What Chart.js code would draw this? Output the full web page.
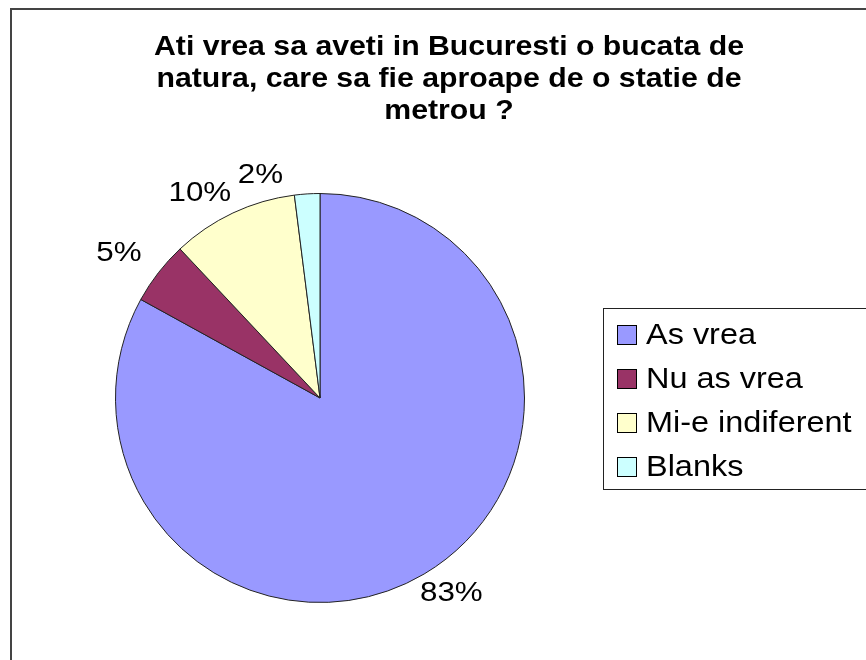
<!DOCTYPE html>
<html>
<head>
<meta charset="utf-8">
<script src="https://cdn.jsdelivr.net/npm/chart.js@4.4.1/dist/chart.umd.min.js"></script>
<style>
  html, body { margin: 0; padding: 0; background: #fff; }
  canvas { display: block; }
</style>
</head>
<body>
<canvas id="pieChart" width="866" height="660"></canvas>
<script>
const categories = ['As vrea', 'Nu as vrea', 'Mi-e indiferent', 'Blanks'];
const percentages = [83, 5, 10, 2];
const sliceColors = ['#9999ff', '#993366', '#ffffcc', '#ccffff'];
const titleLines = [
  'Ati vrea sa aveti in Bucuresti o bucata de',
  'natura, care sa fie aproape de o statie de',
  'metrou ?'
];
// small nudges so the percent labels sit where the original put them
const labelNudge = [[14, -3], [-19, -4], [-22, 4], [-45, 7]];

const FONT = "'Liberation Sans', Arial, sans-serif";
const STRETCH = 1.1; // the original text is a bit wide

function wideText(ctx, text, x, y, align) {
  ctx.save();
  ctx.translate(x, y);
  ctx.scale(STRETCH, 1);
  ctx.textAlign = align;
  ctx.fillText(text, 0, 0);
  ctx.restore();
}

const decorations = {
  id: 'decorations',
  afterDraw(chart) {
    const ctx = chart.ctx;
    ctx.save();

    // outer frame (runs off the right and bottom edges)
    ctx.strokeStyle = '#444';
    ctx.lineWidth = 2;
    ctx.beginPath();
    ctx.moveTo(11, 672);
    ctx.lineTo(11, 9);
    ctx.lineTo(880, 9);
    ctx.stroke();

    // title
    ctx.fillStyle = '#000';
    ctx.font = 'bold 27.5px ' + FONT;
    ctx.textBaseline = 'middle';
    titleLines.forEach((line, i) => {
      wideText(ctx, line, 449, 47 + i * 32, 'center');
    });

    // percent labels outside each slice
    const meta = chart.getDatasetMeta(0);
    ctx.font = '28.5px ' + FONT;
    meta.data.forEach((arc, i) => {
      const mid = (arc.startAngle + arc.endAngle) / 2;
      const d = arc.outerRadius + 26;
      const x = arc.x + Math.cos(mid) * d + labelNudge[i][0];
      const y = arc.y + Math.sin(mid) * d + labelNudge[i][1];
      wideText(ctx, percentages[i] + '%', x, y, 'center');
    });

    // legend box
    ctx.strokeStyle = '#222';
    ctx.lineWidth = 1;
    ctx.strokeRect(603.5, 308.5, 300, 181);
    ctx.font = '29.5px ' + FONT;
    categories.forEach((name, i) => {
      const cy = 335 + i * 44;
      ctx.fillStyle = sliceColors[i];
      ctx.fillRect(617, cy - 10, 20, 20);
      ctx.strokeStyle = '#000';
      ctx.strokeRect(617.5, cy - 9.5, 19, 19);
      ctx.fillStyle = '#000';
      wideText(ctx, name, 646, cy + 1, 'left');
    });

    ctx.restore();
  }
};

new Chart(document.getElementById('pieChart'), {
  type: 'pie',
  data: {
    labels: categories,
    datasets: [{
      data: percentages,
      backgroundColor: sliceColors,
      borderColor: '#222',
      borderWidth: 1
    }]
  },
  options: {
    responsive: false,
    animation: false,
    layout: { padding: { left: 115, right: 341, top: 193, bottom: 57 } },
    plugins: {
      legend: { display: false },
      title: { display: false },
      tooltip: { enabled: false }
    }
  },
  plugins: [decorations]
});
</script>
</body>
</html>
